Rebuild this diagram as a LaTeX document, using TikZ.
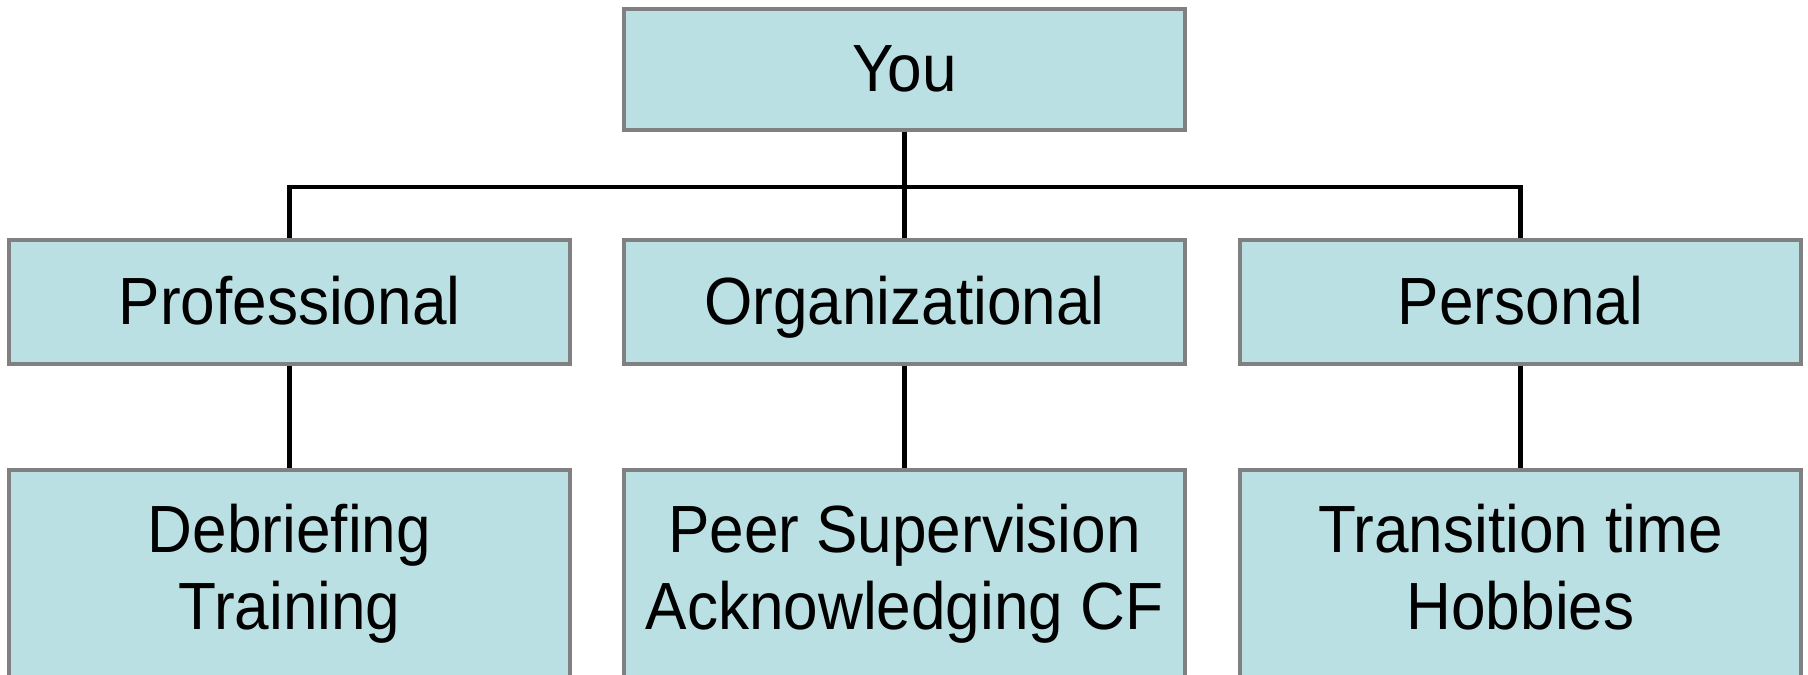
\documentclass[tikz,border=0pt]{standalone}
\usepackage{fontspec}
\setmainfont[FakeStretch=0.93]{Liberation Sans}
\definecolor{boxfill}{RGB}{187, 224, 227}
\definecolor{boxline}{RGB}{128, 128, 128}
\usepackage{tikz}

\begin{document}
\begin{tikzpicture}[
  unit/.style={rectangle, draw=boxline, line width=1.1pt,
               minimum width=5.61cm, minimum height=1.24cm, align=center,
               text height=0.54cm, text depth=0.1cm,
               fill=boxfill, font=\fontsize{19}{22}\selectfont},
  tip/.style={unit, minimum height=2.1cm, text height=, text depth=0.16cm},
  link/.style={line width=1.3pt, black}
]

\clip (0,0) rectangle (18.08,6.74);

\node[unit, minimum height=1.21cm] (you) at (9.045,6.045) {You};

\node[unit] (prof) at (2.895,3.72)  {Professional};
\node[unit] (org)  at (9.045,3.72)  {Organizational};
\node[unit] (pers) at (15.205,3.72) {Personal};

\node[tip] (debr) at (2.895,0.99)  {Debriefing\\Training};
\node[tip] (peer) at (9.045,0.99)  {Peer Supervision\\Acknowledging CF};
\node[tip] (hobb) at (15.205,0.99) {Transition time\\Hobbies};

\coordinate (bar) at (0,4.87);

\draw[link] (you) -- (org);
\draw[link] (prof.north) -- (prof.north |- bar) -- (pers.north |- bar) -- (pers.north);
\draw[link] (prof) -- (debr);
\draw[link] (org)  -- (peer);
\draw[link] (pers) -- (hobb);

\end{tikzpicture}
\end{document}
